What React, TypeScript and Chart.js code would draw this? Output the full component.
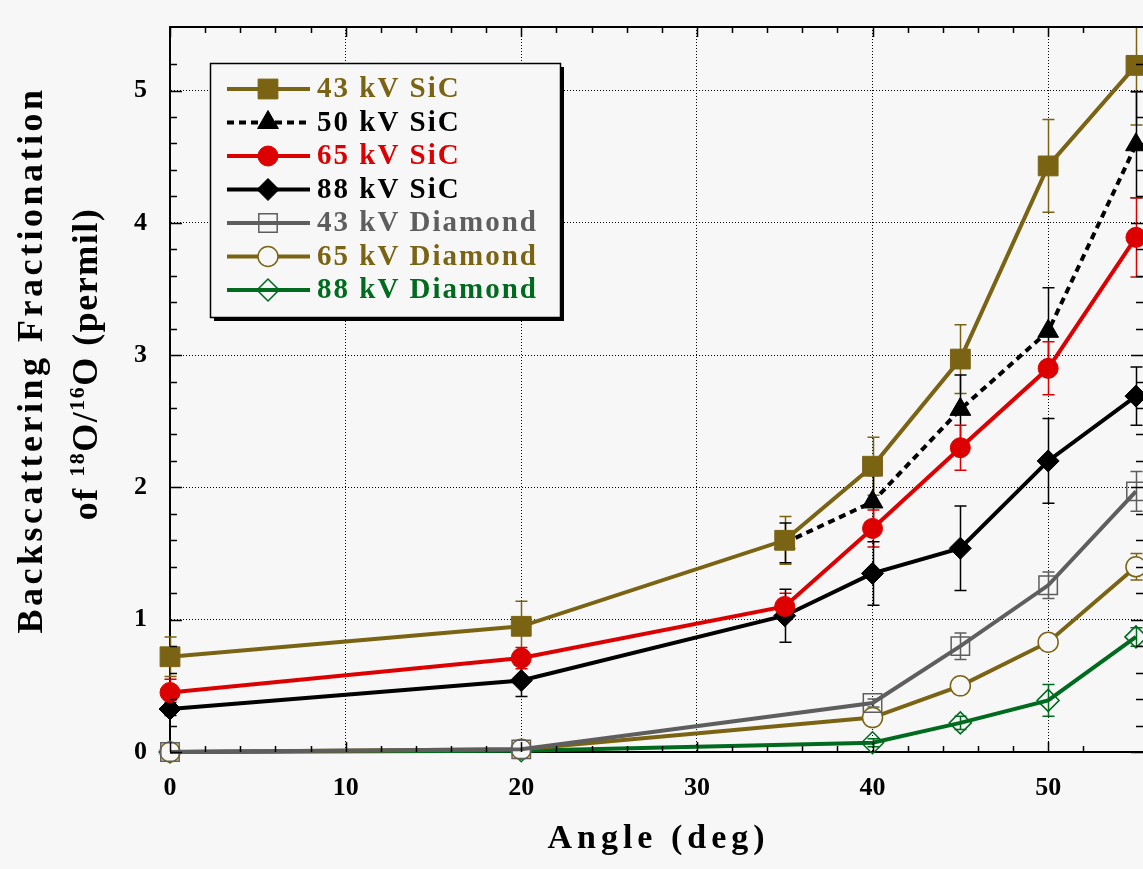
import React, { useEffect, useRef } from "react";
import { Chart, registerables } from "chart.js";
import { drawPoint } from "chart.js/helpers";

Chart.register(...registerables);

const FONT = '"Liberation Serif", "Times New Roman", serif';
const BG = "#F7F7F7";
const OLIVE = "#7A6414";
const RED = "#DD0000";
const GRAY = "#5E5E5E";
const GREEN = "#006B1E";
const BLACK = "#000000";

// ---- data ----
const anglesSiC = [0, 20, 35, 40, 45, 50, 55];
const angles50 = [35, 40, 45, 50, 55];
const anglesDiamond = [0, 20, 40, 45, 50, 55];

const sic43 = [0.72, 0.95, 1.6, 2.16, 2.97, 4.43, 5.19];
const sic43Err = [0.15, 0.19, 0.18, 0.22, 0.26, 0.35, 0.45];
const sic50 = [1.58, 1.89, 2.59, 3.18, 4.59];
const sic50Err = [0.15, 0.2, 0.26, 0.33, 0.4];
const sic65 = [0.45, 0.71, 1.1, 1.69, 2.3, 2.9, 3.89];
const sic65Err = [0.1, 0.08, 0.1, 0.14, 0.17, 0.2, 0.3];
const sic88 = [0.325, 0.54, 1.03, 1.35, 1.54, 2.2, 2.69];
const sic88Err = [0.05, 0.12, 0.2, 0.24, 0.32, 0.32, 0.22];
const dia43 = [0, 0.02, 0.37, 0.8, 1.26, 1.97];
const dia43Err = [0, 0, 0.03, 0.1, 0.1, 0.15];
const dia65 = [0, 0.02, 0.26, 0.5, 0.83, 1.4];
const dia65Err = [0, 0, 0, 0, 0, 0.1];
const dia88 = [0, 0.01, 0.07, 0.22, 0.39, 0.87];
const dia88Err = [0, 0, 0.03, 0.05, 0.12, 0.07];

const seriesLabels = [
  "43 kV SiC",
  "50 kV SiC",
  "65 kV SiC",
  "88 kV SiC",
  "43 kV Diamond",
  "65 kV Diamond",
  "88 kV Diamond",
];

const xTitle = "Angle (deg)";
const yTitleLine1 = "Backscattering Fractionation";
const yTitleLine2 = [
  { t: "of ", sup: false },
  { t: "18", sup: true },
  { t: "O/", sup: false },
  { t: "16", sup: true },
  { t: "O (permil)", sup: false },
];

const X_MAX = 55.4;
const Y_MAX = 5.48;

const isMult = (v: number, m: number) => Math.abs(v / m - Math.round(v / m)) < 1e-6;

const pts = (xs: number[], ys: number[]) => xs.map((x, i) => ({ x, y: ys[i] }));

function makeDatasets() {
  return [
    {
      label: seriesLabels[0], data: pts(anglesSiC, sic43), errors: sic43Err,
      borderColor: OLIVE, textColor: OLIVE, pointStyle: "rect", pointRadius: 14,
      pointBackgroundColor: OLIVE, pointBorderColor: OLIVE, pointBorderWidth: 1, borderDash: [],
    },
    {
      label: seriesLabels[1], data: pts(angles50, sic50), errors: sic50Err,
      borderColor: BLACK, textColor: BLACK, pointStyle: "triangle", pointRadius: 12,
      pointBackgroundColor: BLACK, pointBorderColor: BLACK, pointBorderWidth: 1, borderDash: [7, 5],
    },
    {
      label: seriesLabels[2], data: pts(anglesSiC, sic65), errors: sic65Err,
      borderColor: RED, textColor: RED, pointStyle: "circle", pointRadius: 10,
      pointBackgroundColor: RED, pointBorderColor: RED, pointBorderWidth: 1, borderDash: [],
    },
    {
      label: seriesLabels[3], data: pts(anglesSiC, sic88), errors: sic88Err,
      borderColor: BLACK, textColor: BLACK, pointStyle: "rectRot", pointRadius: 11,
      pointBackgroundColor: BLACK, pointBorderColor: BLACK, pointBorderWidth: 1, borderDash: [],
    },
    {
      label: seriesLabels[4], data: pts(anglesDiamond, dia43), errors: dia43Err,
      borderColor: GRAY, textColor: GRAY, pointStyle: "rect", pointRadius: 13,
      pointBackgroundColor: "rgba(0,0,0,0)", pointBorderColor: GRAY, pointBorderWidth: 1.5, borderDash: [],
    },
    {
      label: seriesLabels[5], data: pts(anglesDiamond, dia65), errors: dia65Err,
      borderColor: OLIVE, textColor: OLIVE, pointStyle: "circle", pointRadius: 10,
      pointBackgroundColor: BG, pointBorderColor: OLIVE, pointBorderWidth: 1.5, borderDash: [],
    },
    {
      label: seriesLabels[6], data: pts(anglesDiamond, dia88), errors: dia88Err,
      borderColor: GREEN, textColor: GREEN, pointStyle: "rectRot", pointRadius: 11,
      pointBackgroundColor: "rgba(0,0,0,0)", pointBorderColor: GREEN, pointBorderWidth: 1.5, borderDash: [],
    },
  ].map((d) => ({
    ...d,
    borderWidth: 4,
    tension: 0,
    showLine: true,
    clip: false as any,
    pointHoverRadius: d.pointRadius,
  }));
}

const zeroPad = (s: any) => {
  s.paddingLeft = 0;
  s.paddingRight = 0;
  s.paddingTop = 0;
  s.paddingBottom = 0;
};

const decorPlugin = {
  id: "decor",
  beforeDraw(chart: any) {
    const { ctx, width, height } = chart;
    ctx.save();
    ctx.fillStyle = BG;
    ctx.fillRect(0, 0, width, height);
    ctx.restore();
  },
  beforeDatasetsDraw(chart: any) {
    const { ctx, chartArea } = chart;
    const xs = chart.scales.x;
    const ys = chart.scales.y;
    ctx.save();
    ctx.beginPath();
    ctx.rect(chartArea.left - 20, chartArea.top, chartArea.right - chartArea.left + 40, chartArea.bottom - chartArea.top + 30);
    ctx.clip();
    chart.data.datasets.forEach((ds: any) => {
      const errs: number[] = ds.errors;
      if (!errs) return;
      ctx.strokeStyle = ds.borderColor;
      ctx.lineWidth = 1.5;
      ctx.setLineDash([]);
      ds.data.forEach((p: any, i: number) => {
        const e = errs[i];
        if (!e) return;
        const px = Math.round(xs.getPixelForValue(p.x)) + 0.5;
        const y1 = ys.getPixelForValue(p.y + e);
        const y2 = ys.getPixelForValue(p.y - e);
        ctx.beginPath();
        ctx.moveTo(px, y1);
        ctx.lineTo(px, y2);
        ctx.moveTo(px - 6, y1);
        ctx.lineTo(px + 6, y1);
        ctx.moveTo(px - 6, y2);
        ctx.lineTo(px + 6, y2);
        ctx.stroke();
      });
    });
    ctx.restore();
  },
  afterDraw(chart: any) {
    const { ctx, chartArea } = chart;
    const { left, right, top, bottom } = chartArea;
    const xs = chart.scales.x;
    const ys = chart.scales.y;

    ctx.save();
    ctx.setLineDash([]);
    // top frame
    ctx.strokeStyle = BLACK;
    ctx.lineWidth = 2;
    ctx.beginPath();
    ctx.moveTo(left, top);
    ctx.lineTo(right, top);
    ctx.stroke();

    // inward ticks
    ctx.lineWidth = 1.5;
    ctx.beginPath();
    xs.ticks.forEach((t: any) => {
      const v = t.value;
      if (!isMult(v, 2)) return;
      const L = isMult(v, 10) ? 10 : 6;
      const px = Math.round(xs.getPixelForValue(v)) + 0.5;
      ctx.moveTo(px, bottom);
      ctx.lineTo(px, bottom - L);
      ctx.moveTo(px, top);
      ctx.lineTo(px, top + L);
    });
    ys.ticks.forEach((t: any) => {
      const v = t.value;
      if (!isMult(v, 0.2)) return;
      const L = isMult(v, 1) ? 12 : 7;
      const py = Math.round(ys.getPixelForValue(v)) + 0.5;
      ctx.moveTo(left, py);
      ctx.lineTo(left + L, py);
      ctx.moveTo(right, py);
      ctx.lineTo(right - L, py);
    });
    ctx.stroke();

    // x title
    ctx.fillStyle = BLACK;
    ctx.font = `bold 34px ${FONT}`;
    (ctx as any).letterSpacing = "5px";
    ctx.textAlign = "center";
    ctx.textBaseline = "alphabetic";
    ctx.fillText(xTitle, (left + right) / 2 + 2, 848);

    // y title line 1
    ctx.save();
    ctx.translate(42, 360);
    ctx.rotate(-Math.PI / 2);
    ctx.font = `bold 36px ${FONT}`;
    (ctx as any).letterSpacing = "3.5px";
    ctx.textAlign = "center";
    ctx.fillText(yTitleLine1, 0, 0);
    ctx.restore();

    // y title line 2 with superscripts
    ctx.save();
    ctx.translate(97, 364);
    ctx.rotate(-Math.PI / 2);
    ctx.textAlign = "left";
    (ctx as any).letterSpacing = "1.5px";
    const fontFor = (sup: boolean) => (sup ? `bold 22px ${FONT}` : `bold 36px ${FONT}`);
    let total = 0;
    const widths = yTitleLine2.map((s) => {
      ctx.font = fontFor(s.sup);
      const w = ctx.measureText(s.t).width;
      total += w;
      return w;
    });
    let cx = -total / 2;
    yTitleLine2.forEach((s, i) => {
      ctx.font = fontFor(s.sup);
      ctx.fillText(s.t, cx, s.sup ? -13 : 0);
      cx += widths[i];
    });
    ctx.restore();

    // legend
    const bx = left + 40;
    const by = top + 36;
    const bw = 350;
    const bh = 254;
    (ctx as any).letterSpacing = "0px";
    ctx.fillStyle = BLACK;
    ctx.fillRect(bx + 4, by + 4, bw, bh);
    ctx.fillStyle = BG;
    ctx.fillRect(bx, by, bw, bh);
    ctx.strokeStyle = BLACK;
    ctx.lineWidth = 1.5;
    ctx.strokeRect(bx + 0.5, by + 0.5, bw, bh);

    chart.data.datasets.forEach((ds: any, i: number) => {
      const ry = by + 26 + i * 33.5;
      ctx.save();
      ctx.strokeStyle = ds.borderColor;
      ctx.lineWidth = 4;
      ctx.setLineDash(ds.borderDash || []);
      ctx.beginPath();
      ctx.moveTo(bx + 17, ry);
      ctx.lineTo(bx + 100, ry);
      ctx.stroke();
      ctx.setLineDash([]);
      ctx.fillStyle = ds.pointBackgroundColor;
      ctx.strokeStyle = ds.pointBorderColor;
      ctx.lineWidth = ds.pointBorderWidth;
      drawPoint(ctx, { pointStyle: ds.pointStyle, radius: ds.pointRadius, rotation: 0, borderWidth: ds.pointBorderWidth } as any, bx + 58, ry);
      ctx.fillStyle = ds.textColor;
      ctx.font = `bold 29px ${FONT}`;
      (ctx as any).letterSpacing = "2px";
      ctx.textAlign = "left";
      ctx.textBaseline = "middle";
      ctx.fillText(ds.label, bx + 107, ry + 1);
      ctx.restore();
    });
    ctx.restore();
  },
};

export default function App() {
  const ref = useRef<HTMLCanvasElement>(null);
  useEffect(() => {
    document.body.style.margin = "0";
    document.body.style.background = BG;
    const chart = new Chart(ref.current as HTMLCanvasElement, {
      type: "line",
      data: { datasets: makeDatasets() as any },
      options: {
        animation: false,
        responsive: false,
        devicePixelRatio: 1,
        events: [],
        layout: { autoPadding: false, padding: { top: 27, right: 0, bottom: 0, left: 0 } },
        plugins: { legend: { display: false }, tooltip: { enabled: false }, title: { display: false } },
        scales: {
          x: {
            type: "linear",
            min: 0,
            max: X_MAX,
            afterFit: (s: any) => { s.height = 117; zeroPad(s); },
            ticks: {
              stepSize: 2,
              autoSkip: false,
              maxRotation: 0,
              padding: 21,
              color: BLACK,
              font: { family: FONT, size: 26, weight: "bold" },
              callback: (v: any) => (isMult(Number(v), 10) ? String(Math.round(Number(v))) : ""),
            },
            grid: {
              drawTicks: false,
              lineWidth: 1,
              color: (c: any) => (c.tick && isMult(c.tick.value, 10) && c.tick.value > 0 ? "#000" : "rgba(0,0,0,0)"),
            },
            border: { display: true, color: BLACK, width: 2, dash: [1, 2] },
          },
          y: {
            type: "linear",
            min: 0,
            max: Y_MAX,
            afterFit: (s: any) => { s.width = 170; zeroPad(s); },
            ticks: {
              stepSize: 0.2,
              autoSkip: false,
              padding: 23,
              color: BLACK,
              font: { family: FONT, size: 26, weight: "bold" },
              callback: (v: any) => (isMult(Number(v), 1) ? String(Math.round(Number(v))) : ""),
            },
            grid: {
              drawTicks: false,
              lineWidth: 1,
              color: (c: any) => (c.tick && isMult(c.tick.value, 1) && c.tick.value > 0 ? "#000" : "rgba(0,0,0,0)"),
            },
            border: { display: true, color: BLACK, width: 2, dash: [1, 2] },
          },
        },
      },
      plugins: [decorPlugin],
    } as any);
    return () => chart.destroy();
  }, []);
  return (
    <div style={{ width: 1143, height: 869, background: BG, overflow: "hidden" }}>
      <canvas ref={ref} width={1143} height={869} style={{ display: "block" }} />
    </div>
  );
}
